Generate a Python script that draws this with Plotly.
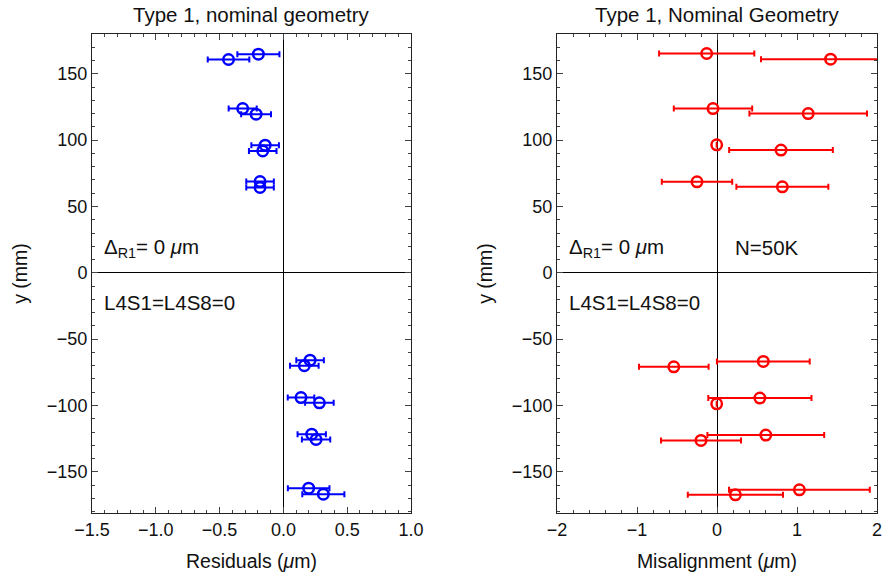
import plotly.graph_objects as go

# ---- data ----
y_left = [164.8, 160.8, 123.8, 119.6, 96.2, 91.9, 68.8, 64.3,
          -65.8, -70.0, -94.0, -98.0, -121.6, -125.6, -162.3, -166.8]
residuals = [-0.196, -0.43, -0.319, -0.214, -0.143, -0.162, -0.183, -0.183,
             0.209, 0.164, 0.138, 0.282, 0.222, 0.256, 0.198, 0.313]
residual_err = [0.165, 0.163, 0.11, 0.117, 0.108, 0.108, 0.108, 0.108,
                0.108, 0.112, 0.104, 0.112, 0.111, 0.111, 0.163, 0.165]

y_right = [165.3, 161.0, 123.8, 120.0, 96.5, 92.5, 68.6, 64.8,
           -66.8, -70.8, -94.4, -98.7, -122.3, -126.3, -163.5, -167.3]
misalignment = [-0.129, 1.42, -0.05, 1.14, -0.004, 0.80, -0.25, 0.817,
                0.579, -0.54, 0.536, -0.004, 0.61, -0.2, 1.03, 0.23]
misalignment_err = [0.595, 0.87, 0.49, 0.735, 0.0, 0.648, 0.44, 0.575,
                    0.58, 0.435, 0.645, 0.0, 0.73, 0.5, 0.88, 0.595]

left_xticks = [-1.5, -1.0, -0.5, 0.0, 0.5, 1.0]
right_xticks = [-2, -1, 0, 1, 2]
yticks = [-150, -100, -50, 0, 50, 100, 150]

FONT = "Liberation Sans, Arial, sans-serif"
FS = 18
FS_TITLE = 19.5
FS_ANN = 20.5
W, H = 884, 582

fig = go.Figure()

fig.add_trace(go.Scatter(
    x=residuals, y=y_left, mode="markers", xaxis="x", yaxis="y",
    marker=dict(symbol="circle-open", size=10.5, color="#0000ff",
                line=dict(width=2.5, color="#0000ff")),
    error_x=dict(type="data", array=residual_err, visible=True,
                 color="#0000ff", thickness=2, width=3),
    showlegend=False))

fig.add_trace(go.Scatter(
    x=misalignment, y=y_right, mode="markers", xaxis="x2", yaxis="y2",
    marker=dict(symbol="circle-open", size=10.5, color="#ff0000",
                line=dict(width=2.5, color="#ff0000")),
    error_x=dict(type="data", array=misalignment_err, visible=True,
                 color="#ff0000", thickness=2, width=3),
    showlegend=False))

ydom = [(H - 513) / H, (H - 34) / H]
x1dom = [92 / W, 411 / W]
x2dom = [557 / W, 877 / W]

common_ax = dict(
    automargin=False,
    showline=True, linecolor="#222", linewidth=1, mirror="ticks",
    ticks="inside", ticklen=6, tickwidth=1, tickcolor="#444",
    showgrid=False, zeroline=True, zerolinecolor="#000", zerolinewidth=1,
    tickfont=dict(family=FONT, size=FS, color="#111"),
)
title_font = dict(family=FONT, size=FS_TITLE, color="#111")

fig.update_layout(
    width=W, height=H, margin=dict(l=0, r=0, t=0, b=0, autoexpand=False),
    paper_bgcolor="white", plot_bgcolor="white",
    font=dict(family=FONT, size=FS, color="#111"),
    xaxis=dict(domain=x1dom, anchor="y", range=[-1.5, 1.0],
               tickvals=left_xticks, tickformat=".1f",
               minor=dict(dtick=0.1, tick0=0, ticks="inside", ticklen=3,
                          tickcolor="#444", showgrid=False),
               title=dict(text="Residuals (<i>μ</i>m)", standoff=15,
                          font=title_font),
               **common_ax),
    yaxis=dict(domain=ydom, anchor="x", range=[-181, 180],
               tickvals=yticks,
               minor=dict(dtick=10, tick0=0, ticks="inside", ticklen=3,
                          tickcolor="#444", showgrid=False),
               title=dict(text="y (mm)", standoff=14, font=title_font),
               **common_ax),
    xaxis2=dict(domain=x2dom, anchor="y2", range=[-2, 2],
                tickvals=right_xticks,
                minor=dict(dtick=0.2, tick0=0, ticks="inside", ticklen=3,
                           tickcolor="#444", showgrid=False),
                title=dict(text="Misalignment (<i>μ</i>m)", standoff=15,
                           font=title_font),
                **common_ax),
    yaxis2=dict(domain=ydom, anchor="x2", range=[-181, 180],
                tickvals=yticks,
                minor=dict(dtick=10, tick0=0, ticks="inside", ticklen=3,
                           tickcolor="#444", showgrid=False),
                title=dict(text="y (mm)", standoff=14, font=title_font),
                **common_ax),
)

ann_font = dict(family=FONT, size=FS_ANN, color="#111")
annotations = [
    dict(text="Type 1, nominal geometry", xref="paper", yref="paper",
         x=(x1dom[0] + x1dom[1]) / 2, y=1 - 14 / H, xanchor="center",
         yanchor="middle", showarrow=False, font=ann_font),
    dict(text="Type 1, Nominal Geometry", xref="paper", yref="paper",
         x=(x2dom[0] + x2dom[1]) / 2, y=1 - 14 / H, xanchor="center",
         yanchor="middle", showarrow=False, font=ann_font),
    dict(text="Δ<sub>R1</sub>= 0 <i>μ</i>m", xref="x domain", yref="y",
         x=0.03, y=19, xanchor="left", yanchor="middle", showarrow=False,
         font=ann_font),
    dict(text="L4S1=L4S8=0", xref="x domain", yref="y",
         x=0.03, y=-22, xanchor="left", yanchor="middle", showarrow=False,
         font=ann_font),
    dict(text="Δ<sub>R1</sub>= 0 <i>μ</i>m", xref="x2 domain", yref="y2",
         x=0.03, y=19, xanchor="left", yanchor="middle", showarrow=False,
         font=ann_font),
    dict(text="N=50K", xref="x2", yref="y2",
         x=0.2, y=19, xanchor="left", yanchor="middle", showarrow=False,
         font=ann_font),
    dict(text="L4S1=L4S8=0", xref="x2 domain", yref="y2",
         x=0.03, y=-22, xanchor="left", yanchor="middle", showarrow=False,
         font=ann_font),
]
fig.update_layout(annotations=annotations)

fig.write_html("out.html")
